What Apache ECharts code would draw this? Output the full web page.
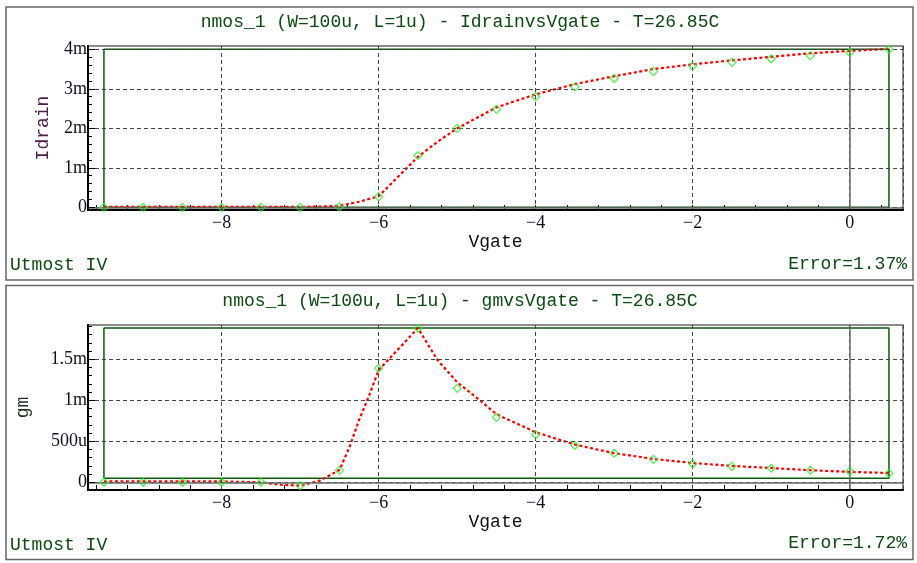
<!DOCTYPE html>
<html>
<head>
<meta charset="utf-8">
<script src="https://cdn.jsdelivr.net/npm/echarts@6/dist/echarts.min.js"></script>
<style>
html,body{margin:0;padding:0;background:#fff;}
#c{width:917px;height:563px;}
</style>
</head>
<body>
<div id="c"></div>
<script>
// ---- data ----
var titleTop = 'nmos_1 (W=100u, L=1u) - IdrainvsVgate - T=26.85C';
var titleBottom = 'nmos_1 (W=100u, L=1u) - gmvsVgate - T=26.85C';
var errorTop = 'Error=1.37%';
var errorBottom = 'Error=1.72%';
var toolName = 'Utmost IV';

// measured points (green diamonds)
var measVgate = [-9.5,-9,-8.5,-8,-7.5,-7,-6.5,-6,-5.5,-5,-4.5,-4,-3.5,-3,-2.5,-2,-1.5,-1,-0.5,0,0.5];
var measIdrain_mA = [0,0,0,0,0,0,0.01,0.27,1.31,2.0,2.48,2.80,3.05,3.26,3.44,3.58,3.67,3.76,3.84,3.92,4.0];
var measGm_mS = [0,0,0,0,0,-0.04,0.146,1.39,1.878,1.146,0.79,0.58,0.45,0.354,0.28,0.227,0.195,0.171,0.146,0.134,0.11];

// simulated curve (red dotted)
var simVgateId = [-9.5,-9,-8.5,-8,-7.5,-7,-6.75,-6.5,-6.25,-6,-5.75,-5.5,-5.25,-5,-4.5,-4,-3.5,-3,-2.5,-2,-1.5,-1,-0.5,0,0.5];
var simIdrain_mA = [0.01,0.01,0.01,0.01,0.01,0.01,0.02,0.04,0.14,0.28,0.78,1.28,1.66,2.0,2.53,2.86,3.12,3.32,3.50,3.62,3.72,3.81,3.90,3.96,4.01];
var simVgateGm = [-9.5,-9,-8.5,-8,-7.5,-7.25,-7,-6.75,-6.5,-6.375,-6.25,-6.125,-6,-5.5,-5.25,-5,-4.75,-4.5,-4,-3.5,-3,-2.5,-2,-1.5,-1,-0.5,0,0.5];
var simGm_mS = [0.01,0.01,0.01,0.01,0.0,-0.03,-0.04,0.02,0.15,0.42,0.76,1.05,1.37,1.88,1.49,1.22,1.03,0.83,0.61,0.46,0.355,0.285,0.235,0.2,0.174,0.147,0.127,0.113];

// fit-window boxes (green)
var boxVgate = [-9.5, 0.5];
var boxIdrain_mA = [0, 4];
var boxGm_mS = [0.05, 1.88];

// tick labels / tick positions
var xLabelValues = [-8,-6,-4,-2,0];
var xMinorTicks = [-9.6,-9.2,-8.8,-8.4,-8,-7.6,-7.2,-6.8,-6.4,-6,-5.6,-5.2,-4.8,-4.4,-4,-3.6,-3.2,-2.8,-2.4,-2,-1.6,-1.2,-0.8,-0.4,0,0.4];
var yTopLabelValues = [0,1,2,3,4];
var yTopMinorTicks = [0,0.2,0.4,0.6,0.8,1,1.2,1.4,1.6,1.8,2,2.2,2.4,2.6,2.8,3,3.2,3.4,3.6,3.8,4];
var yBotLabelValues = [0,0.5,1,1.5];
var yBotMinorTicks = [0,0.1,0.2,0.3,0.4,0.5,0.6,0.7,0.8,0.9,1,1.1,1.2,1.3,1.4,1.5,1.6,1.7,1.8,1.9];

// ---- helpers ----
function zip(xs, ys){ var r=[]; for(var i=0;i<xs.length;i++) r.push([xs[i], ys[i]]); return r; }
function boxPath(bx, by){ return [[bx[0],by[0]],[bx[0],by[1]],[bx[1],by[1]],[bx[1],by[0]],[bx[0],by[0]]]; }
function fmtX(v){ return String(v).replace('-', '\u2212'); }
function fmtTop(v){ return v===0 ? '0' : v + 'm'; }
function fmtBot(v){ if(v===0) return '0'; if(v<1) return Math.round(v*1000)+'u'; return v+'m'; }

var MONO = '"Liberation Mono","DejaVu Sans Mono",monospace';
var SERIF = '"Liberation Serif","DejaVu Serif",serif';
var TXT_GREEN = '#0b4a10';
var BOX_GREEN = '#0a5a0a';
var XMIN = -9.703, XMAX = 0.679;

function mainX(gi){
  return {
    type:'value', gridIndex:gi, min:XMIN, max:XMAX, position:'bottom',
    name:'Vgate', nameLocation:'middle', nameGap:22,
    nameTextStyle:{fontFamily:MONO, fontSize:18, color:'#111'},
    axisLine:{show:true, onZero:false, lineStyle:{color:'#000', width:2}},
    axisTick:{show:false},
    axisLabel:{show:true, customValues:xLabelValues, formatter:fmtX, margin:4,
      fontFamily:SERIF, fontSize:18, color:'#101028'},
    splitLine:{show:true, lineStyle:{color:'#444', type:[4,3], width:1}},
    z:5
  };
}
function minorX(gi){
  return {
    type:'value', gridIndex:gi, min:XMIN, max:XMAX, position:'bottom',
    axisLine:{show:false, onZero:false},
    axisTick:{show:true, inside:true, length:5, customValues:xMinorTicks, lineStyle:{color:'#000', width:1}},
    axisLabel:{show:false}, splitLine:{show:false}
  };
}
function mainY(gi, mn, mx, labels, fmt, name, nameColor, nameGap){
  return {
    type:'value', gridIndex:gi, min:mn, max:mx, position:'left',
    name:name, nameLocation:'middle', nameGap:nameGap, nameRotate:90,
    nameTextStyle:{fontFamily:MONO, fontSize:18, color:nameColor},
    axisLine:{show:true, onZero:false, lineStyle:{color:'#000', width:2}},
    axisTick:{show:true, inside:true, length:7, customValues:labels, lineStyle:{color:'#000', width:1}},
    axisLabel:{show:true, customValues:labels, formatter:fmt, margin:1,
      fontFamily:SERIF, fontSize:18, color:'#101028'},
    splitLine:{show:true, lineStyle:{color:'#444', type:[4,3], width:1}},
    z:5
  };
}
function minorY(gi, mn, mx, ticks){
  return {
    type:'value', gridIndex:gi, min:mn, max:mx, position:'left',
    axisLine:{show:false, onZero:false},
    axisTick:{show:true, inside:true, length:4, customValues:ticks, lineStyle:{color:'#000', width:1}},
    axisLabel:{show:false}, splitLine:{show:false}
  };
}
function zeroLines(){
  return {
    silent:true, symbol:'none', animation:false,
    label:{show:false},
    lineStyle:{color:'#6a6a6a', type:'solid', width:1.5},
    data:[{xAxis:0},{yAxis:0}]
  };
}
function boxSeries(xi, yi, by){
  return {type:'line', xAxisIndex:xi, yAxisIndex:yi, data:boxPath(boxVgate, by),
    symbol:'none', silent:true, animation:false, z:2,
    lineStyle:{color:BOX_GREEN, width:1.5}, markLine:zeroLines()};
}
function simSeries(xi, yi, xs, ys){
  return {type:'line', xAxisIndex:xi, yAxisIndex:yi, data:zip(xs, ys),
    symbol:'none', animation:false, z:4,
    lineStyle:{color:'#ff0000', width:2.2, type:[3,2.5]}};
}
function measSeries(xi, yi, xs, ys){
  return {type:'scatter', xAxisIndex:xi, yAxisIndex:yi, data:zip(xs, ys),
    symbol:'diamond', symbolSize:8, animation:false, z:6,
    itemStyle:{color:'rgba(0,0,0,0)', borderColor:'#22ee22', borderWidth:1.2}};
}

var chart = echarts.init(document.getElementById('c'), null, {renderer:'canvas'});
var option = {
  backgroundColor:'#fff',
  animation:false,
  grid:[
    {left:88, top:46, right:14, height:164, show:true, borderColor:'#666', borderWidth:1.5, backgroundColor:'transparent'},
    {left:88, top:325, right:14, height:165, show:true, borderColor:'#666', borderWidth:1.5, backgroundColor:'transparent'}
  ],
  xAxis:[ mainX(0), minorX(0), mainX(1), minorX(1) ],
  yAxis:[
    mainY(0, -0.068, 4.084, yTopLabelValues, fmtTop, 'Idrain', '#4a2048', 36),
    minorY(0, -0.068, 4.084, yTopMinorTicks),
    mainY(1, -0.094, 1.918, yBotLabelValues, fmtBot, 'gm', '#1c2a1c', 56),
    minorY(1, -0.094, 1.918, yBotMinorTicks)
  ],
  series:[
    boxSeries(0, 0, boxIdrain_mA),
    simSeries(0, 0, simVgateId, simIdrain_mA),
    measSeries(0, 0, measVgate, measIdrain_mA),
    boxSeries(2, 2, boxGm_mS),
    simSeries(2, 2, simVgateGm, simGm_mS),
    measSeries(2, 2, measVgate, measGm_mS)
  ],
  graphic:[
    {type:'rect', shape:{x:6, y:7, width:907, height:273}, style:{fill:'none', stroke:'#666', lineWidth:1.5}, silent:true, z:-1},
    {type:'rect', shape:{x:6, y:285.5, width:907, height:274}, style:{fill:'none', stroke:'#666', lineWidth:1.5}, silent:true, z:-1},
    {type:'text', x:460, y:22, style:{text:titleTop, fontFamily:MONO, fontSize:18, fill:TXT_GREEN, align:'center', verticalAlign:'middle'}},
    {type:'text', x:460, y:301, style:{text:titleBottom, fontFamily:MONO, fontSize:18, fill:TXT_GREEN, align:'center', verticalAlign:'middle'}},
    {type:'text', x:10, y:265, style:{text:toolName, fontFamily:MONO, fontSize:18, fill:TXT_GREEN, align:'left', verticalAlign:'middle'}},
    {type:'text', x:10, y:545, style:{text:toolName, fontFamily:MONO, fontSize:18, fill:TXT_GREEN, align:'left', verticalAlign:'middle'}},
    {type:'text', x:907, y:264, style:{text:errorTop, fontFamily:MONO, fontSize:18, fill:TXT_GREEN, align:'right', verticalAlign:'middle'}},
    {type:'text', x:907, y:543, style:{text:errorBottom, fontFamily:MONO, fontSize:18, fill:TXT_GREEN, align:'right', verticalAlign:'middle'}}
  ]
};
chart.setOption(option);
</script>
</body>
</html>
